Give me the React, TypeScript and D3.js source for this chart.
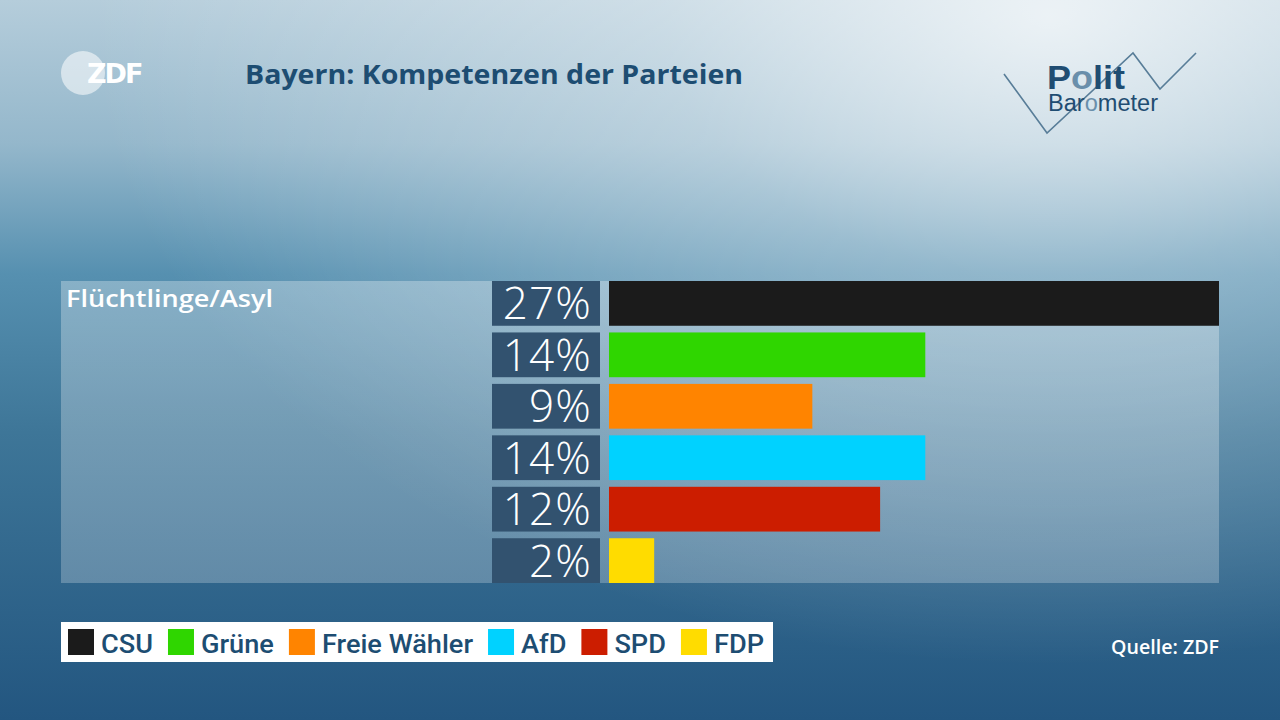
import React, { useMemo } from "react";
import * as d3 from "d3";

const parties = ["CSU", "Grüne", "Freie Wähler", "AfD", "SPD", "FDP"];
const values = [27, 14, 9, 14, 12, 2];
const colors = ["#1b1b1b", "#2fd600", "#ff8400", "#00d2ff", "#cc1d00", "#ffdc00"];
const category = "Flüchtlinge/Asyl";
const title = "Bayern: Kompetenzen der Parteien";
const source = "Quelle: ZDF";

const W = 1280;
const H = 720;

function measure(text: string, font: string): number {
  const c = document.createElement("canvas");
  const ctx = c.getContext("2d");
  if (!ctx) return text.length * 12;
  ctx.font = font;
  return ctx.measureText(text).width;
}

export default function App() {
  const y = d3.scaleBand<number>().domain(d3.range(parties.length)).range([281, 583]).paddingInner(0.13).paddingOuter(0);
  const x = d3.scaleLinear().domain([0, 27]).range([609, 1219]);

  const legendFont = "500 25px Roboto, sans-serif";
  const legendItems = useMemo(() => {
    const raw = parties.map((p) => measure(p, legendFont));
    const k = (764 - 68 - (parties.length * 33 + (parties.length - 1) * 15)) / d3.sum(raw);
    let cx = 68;
    return parties.map((p, i) => {
      const w = raw[i] * k;
      const item = { p, i, x: cx, tx: cx + 33, w };
      cx = cx + 33 + w + 15;
      return item;
    });
  }, []);

  return (
    <svg width={W} height={H} style={{ position: "absolute", left: 0, top: 0 }}>
      <defs>
        <linearGradient id="bg" x1="0" y1="0" x2="0" y2="1">
          <stop offset="0" stopColor="#b5cddb" />
          <stop offset="0.2" stopColor="#94b7cb" />
          <stop offset="0.38" stopColor="#5690b0" />
          <stop offset="0.6" stopColor="#3e7698" />
          <stop offset="1" stopColor="#235680" />
        </linearGradient>
        <radialGradient id="glow" cx="0.82" cy="0.02" r="0.75" gradientTransform="scale(1,1.2)">
          <stop offset="0" stopColor="#ffffff" stopOpacity="0.75" />
          <stop offset="0.4" stopColor="#ffffff" stopOpacity="0.35" />
          <stop offset="1" stopColor="#ffffff" stopOpacity="0" />
        </radialGradient>
        <linearGradient id="panel" x1="0" y1="0" x2="0" y2="1">
          <stop offset="0" stopColor="#ffffff" stopOpacity="0.3" />
          <stop offset="1" stopColor="#ffffff" stopOpacity="0.24" />
        </linearGradient>
      </defs>
      <rect x={0} y={0} width={W} height={H} fill="url(#bg)" />
      <rect x={0} y={0} width={W} height={H} fill="url(#glow)" />

      {/* ZDF logo */}
      <circle cx={83} cy={73} r={22} fill="#ffffff" opacity={0.55} />
      <text x={87} y={83} fill="#ffffff" fontFamily="'DejaVu Sans', sans-serif" fontWeight={700} fontSize={27} letterSpacing={-2}>ZDF</text>

      {/* Title */}
      <text x={245} y={84} fill="#1d4d72" fontFamily="'Open Sans', sans-serif" fontWeight={700} fontSize={26} textLength={498} lengthAdjust="spacingAndGlyphs">{title}</text>

      {/* Politbarometer logo */}
      <polyline points="1004,74 1047,133 1133,53 1160,89 1196,53" fill="none" stroke="#587d98" strokeWidth={1.6} />
      <text x={1047} y={89} fontFamily="Arial, 'Liberation Sans', sans-serif" fontWeight={700} fontSize={34} fill="#1f4d72" textLength={78} lengthAdjust="spacingAndGlyphs">
        P<tspan fill="#6a8fab">o</tspan>lit
      </text>
      <text x={1048} y={111} fontFamily="Arial, 'Liberation Sans', sans-serif" fontSize={23} fill="#1f4d72" textLength={110} lengthAdjust="spacingAndGlyphs">
        Bar<tspan fill="#6a8fab">o</tspan>meter
      </text>

      {/* Panel */}
      <rect x={61} y={281} width={1158} height={302} fill="url(#panel)" />
      <text x={66} y={307} fill="#ffffff" fontFamily="'Open Sans', sans-serif" fontWeight={600} fontSize={23} textLength={207} lengthAdjust="spacingAndGlyphs">{category}</text>

      {values.map((v, i) => {
        const by = y(i) as number;
        const bh = y.bandwidth();
        return (
          <g key={i}>
            <rect x={492} y={by} width={108} height={bh} fill="#32526f" />
            <text x={592} y={by + bh / 2 + 16} textAnchor="end" fill="#ffffff" fontFamily="'Open Sans', sans-serif" fontWeight={300} fontSize={44} letterSpacing={1.2}>{v}%</text>
            <rect x={x(0)} y={by} width={x(v) - x(0)} height={bh} fill={colors[i]} />
          </g>
        );
      })}

      {/* Legend */}
      <rect x={61} y={622} width={712} height={40} fill="#ffffff" />
      {legendItems.map((it) => (
        <g key={it.p}>
          <rect x={it.x} y={629} width={26} height={26} fill={colors[it.i]} />
          <text x={it.tx} y={653} fill="#1d4d72" fontFamily="Roboto, sans-serif" fontWeight={500} fontSize={25} textLength={it.w} lengthAdjust="spacingAndGlyphs">{it.p}</text>
        </g>
      ))}

      <text x={1219} y={654} textAnchor="end" fill="#ffffff" fontFamily="'Open Sans', sans-serif" fontWeight={600} fontSize={19} textLength={108} lengthAdjust="spacingAndGlyphs">{source}</text>
    </svg>
  );
}
